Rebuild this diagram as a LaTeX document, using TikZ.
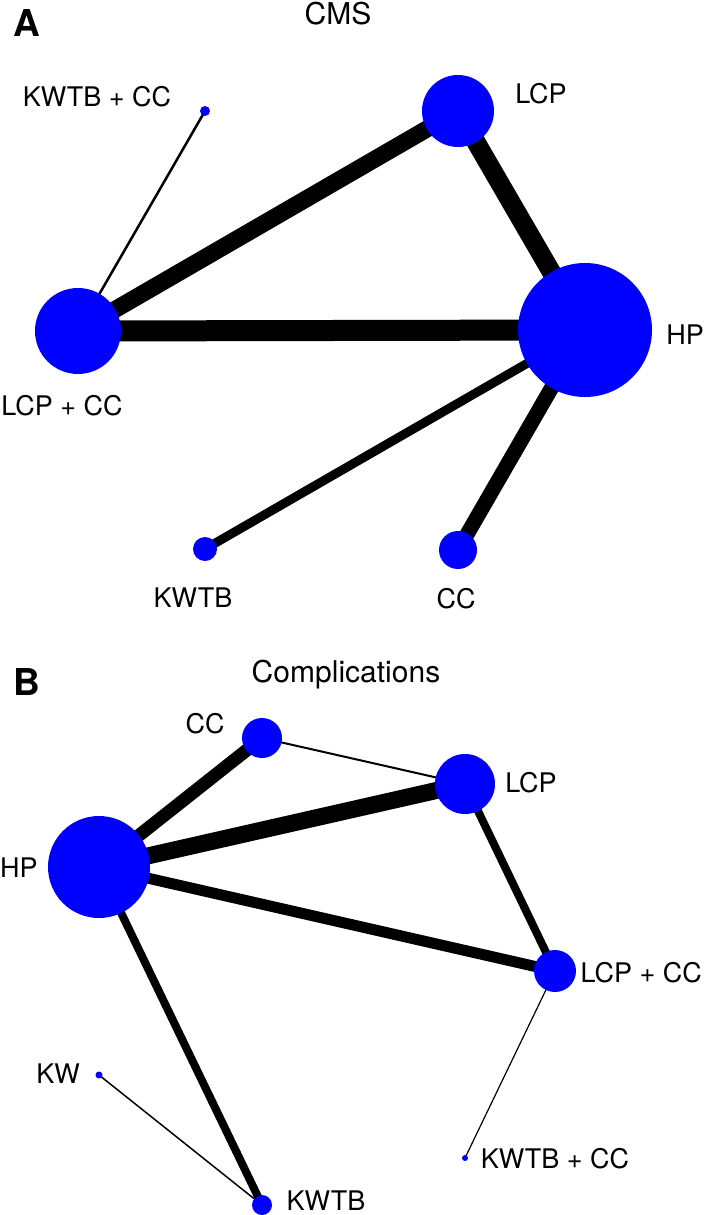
\documentclass[tikz,border=0pt]{standalone}
\usepackage{fontspec}
\setmainfont{TeX Gyre Heros}
\usetikzlibrary{backgrounds}
\definecolor{netblue}{RGB}{0,0,255}
\tikzset{trt/.style = {circle, fill=netblue, inner sep=0pt, minimum size=#1},
         lbl/.style = {anchor=base, font=\fontsize{27}{32}\selectfont},
         ttl/.style = {anchor=base, font=\fontsize{30}{36}\selectfont},
         pnl/.style = {anchor=base, font=\fontsize{37}{44}\selectfont\bfseries},
         arm/.style = {line width=#1}}

\begin{document}
\begin{tikzpicture}[x=1pt, y=-1pt]
      \useasboundingbox (0, 0) rectangle (704, 1215);
      \node [pnl] (pa) at (27, 37) {A};
      \node [ttl] (cms) at (338, 25) {CMS};
      \node [trt=10pt] (akwtbcc) at (205, 111) {};
      \node [trt=72pt] (alcp) at (458, 111) {};
      \node [trt=86pt] (alcpcc) at (78, 331) {};
      \node [trt=134pt] (ahp) at (585, 330) {};
      \node [trt=24pt] (akwtb) at (205, 549) {};
      \node [trt=38pt] (acc) at (458, 550) {};
      \node [lbl] (lakwtbcc) at (97, 106) {KWTB + CC};
      \node [lbl] (lalcp) at (541, 103) {LCP};
      \node [lbl] (lalcpcc) at (62, 415) {LCP + CC};
      \node [lbl] (lahp) at (685, 344) {HP};
      \node [lbl] (lakwtb) at (193, 607) {KWTB};
      \node [lbl] (lacc) at (456, 608) {CC};
      \begin{scope}[on background layer]
        \draw [arm=2.5pt] (akwtbcc.center) -- (alcpcc.center);
        \draw [arm=17pt] (alcpcc.center) -- (alcp.center);
        \draw [arm=21pt] (alcpcc.center) -- (ahp.center);
        \draw [arm=19pt] (alcp.center) -- (ahp.center);
        \draw [arm=9pt] (ahp.center) -- (akwtb.center);
        \draw [arm=15pt] (ahp.center) -- (acc.center);
      \end{scope}
      \node [pnl] (pb) at (27, 695) {B};
      \node [ttl] (cmp) at (346, 682) {Complications};
      \node [trt=40pt] (bcc) at (262, 738) {};
      \node [trt=60pt] (blcp) at (465, 784) {};
      \node [trt=102pt] (bhp) at (99, 867) {};
      \node [trt=42pt] (blcpcc) at (555, 971) {};
      \node [trt=7pt] (bkw) at (99, 1075) {};
      \node [trt=6pt] (bkwtbcc) at (465, 1158) {};
      \node [trt=20pt] (bkwtb) at (262, 1205) {};
      \node [lbl] (lbcc) at (205, 733) {CC};
      \node [lbl] (lblcp) at (531, 792) {LCP};
      \node [lbl] (lbhp) at (19, 877) {HP};
      \node [lbl, anchor=base east, inner sep=1pt] (lblcpcc) at (703, 982) {LCP + CC};
      \node [lbl] (lbkw) at (58, 1083) {KW};
      \node [lbl] (lbkwtbcc) at (555, 1168) {KWTB + CC};
      \node [lbl] (lbkwtb) at (326, 1210) {KWTB};
      \begin{scope}[on background layer]
        \draw [arm=13pt] (bhp.center) -- (bcc.center);
        \draw [arm=17pt] (bhp.center) -- (blcp.center);
        \draw [arm=2pt] (bcc.center) -- (blcp.center);
        \draw [arm=11pt] (bhp.center) -- (blcpcc.center);
        \draw [arm=8pt] (blcp.center) -- (blcpcc.center);
        \draw [arm=8pt] (bhp.center) -- (bkwtb.center);
        \draw [arm=1.5pt] (bkw.center) -- (bkwtb.center);
        \draw [arm=1.2pt] (blcpcc.center) -- (bkwtbcc.center);
      \end{scope}
    \end{tikzpicture}
\end{document}
